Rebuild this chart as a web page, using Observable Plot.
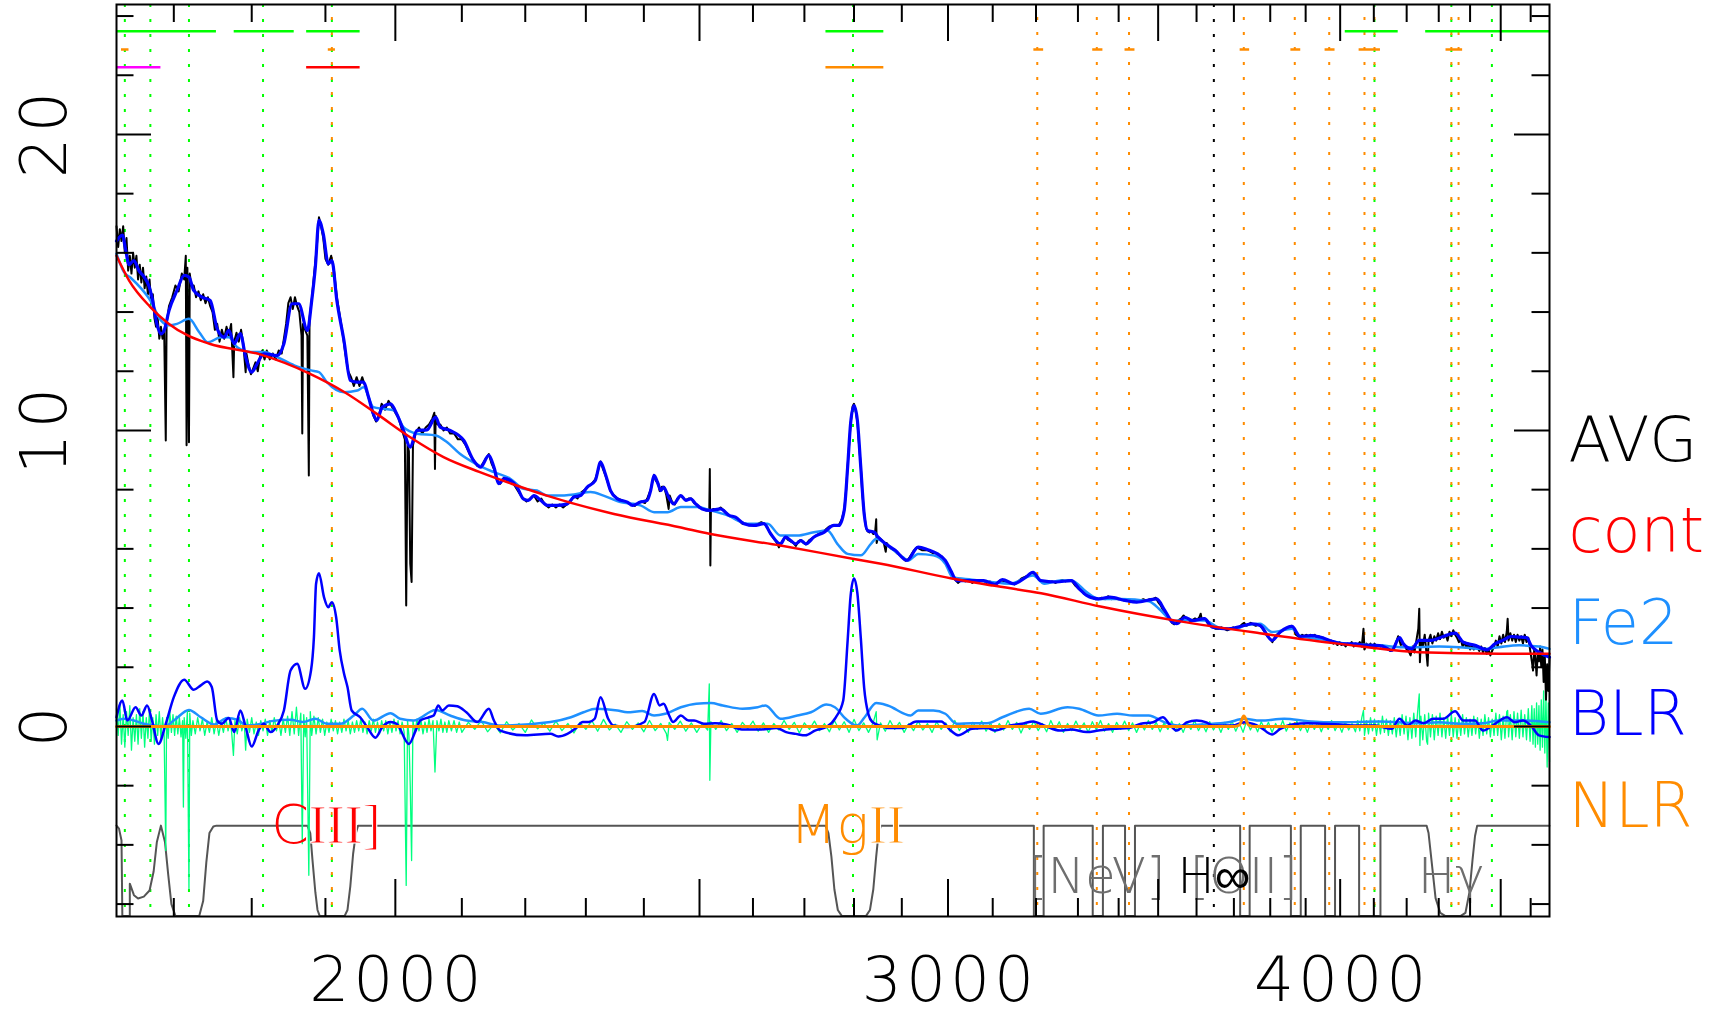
<!DOCTYPE html>
<html><head><meta charset="utf-8">
<script src="https://cdn.jsdelivr.net/npm/d3@7"></script>
<script src="https://cdn.jsdelivr.net/npm/@observablehq/plot@0.6"></script>
<style>
html,body{margin:0;padding:0;background:#fff;}
#chart svg{display:block;}
g[aria-description="x-tick-labels"] text{letter-spacing:4px;}
g[aria-description="y-tick-labels"] text{letter-spacing:5px;}
</style></head><body><div id="chart"></div>
<script>
// ---------------- data ----------------
const xDomain = [1630, 4664];
const yDomain = [-6.42, 24.39];

const xMinorTicks = [1700,1800,1900,2100,2200,2300,2400,2600,2700,2800,2900,3100,3200,3300,3400,3600,3700,3800,3900,4100,4200,4300,4400,4600];
const xMajorTicks = [2000,2500,3000,3500,4000,4500];
const xTickLabels = [2000,3000,4000];
const yMinorTicks = [-6,-4,-2,2,4,6,8,12,14,16,18,22,24];
const yMajorTicks = [0,10,20];
const yTickLabels = [0,10,20];

const legendNames = ["AVG","cont","Fe2","BLR","NLR"];
const legendColors = ["#000000","#ff0000","#1e90ff","#0000ff","#ff8c00"];

const broadLineWaves = [1640,1671,1719,1815,1909,2798,4102,4340,4471];
const narrowLineWaves = [1909,3203,3346,3426,3727,3869,3968,4072,4102,4340,4363];
const limitLineWaves = [3646];

const broadWindows = [[1630,1754],[1777,1857],[1874,1949],[2743,2862],[4015,4174],[4259,4664]];
const narrowWindows = [[1636,1645],[1904,1914],[3195,3218],[3336,3361],[3416,3441],[3717,3743],[3858,3886],[3956,3985],[4056,4120],[4323,4376]];
const extraWindows = [[1630,1684],[1874,1949],[2743,2862]];
const extraWindowColors = ["#ff00ff","#ff0000","#ff8c00"];

const broadLabelWave = [1909, 2798];
const broadLabelSans = ["C","Mg"];
const broadLabelSerif = ["III]","II"];
const broadLabelColor = ["#ff0000","#ff8c00"];
const narrowLabelWave = [3346, 3727, 4340];
const narrowLabelText = ["[NeV]","[OII]","H\u03b3"];
const limitLabelWave = [3646];
const limitLabelText = ["H\u221e"];

// continuum (red)
const cont = [[1630,15.9],[1645,15.07],[1671,14.17],[1694,13.6],[1718,13.2],[1745,12.93],[1811,12.57],[1878,11.92],[1927,11.29],[1973,10.56],[2022,9.77],[2072,9.1],[2127,8.6],[2178,8.2],[2235,7.8],[2348,7.18],[2464,6.73],[2518,6.51],[2653,6.11],[2800,5.66],[2856,5.5],[3008,5.0],[3100,4.76],[3212,4.5],[3355,4.05],[3557,3.55],[3771,3.15],[4000,2.79],[4238,2.51],[4496,2.46],[4664,2.46]];

// total model (blue, upper)
const model = [[1630,16.4],[1637,16.6],[1641,16.1],[1645,15.6],[1651,15.74],[1657,15.4],[1663,15.2],[1669,14.9],[1673,14.5],[1679,13.6],[1684,13.26],[1688,13.38],[1694,14.05],[1704,14.73],[1713,15.24],[1719,15.18],[1725,14.73],[1736,14.5],[1746,14.39],[1755,13.43],[1764,13.15],[1770,13.38],[1777,12.93],[1785,13.27],[1792,12.48],[1800,11.97],[1807,12.25],[1816,12.59],[1834,12.53],[1843,12.93],[1854,14.28],[1863,14.28],[1875,13.38],[1881,14.39],[1886,15.52],[1891,17.1],[1897,16.64],[1904,15.63],[1909,15.74],[1916,14.39],[1926,13.04],[1935,11.69],[1945,11.63],[1954,11.63],[1961,11.13],[1968,10.56],[1973,10.34],[1981,10.79],[1993,10.9],[2002,10.56],[2012,10.0],[2022,9.44],[2032,10.0],[2047,10.02],[2060,10.45],[2067,10.11],[2082,10.0],[2103,9.66],[2118,8.99],[2129,8.76],[2142,9.16],[2150,8.76],[2158,8.2],[2166,8.37],[2176,8.31],[2187,8.08],[2197,7.69],[2205,7.64],[2214,7.8],[2225,7.64],[2236,7.47],[2252,7.47],[2269,7.52],[2280,7.75],[2291,7.8],[2302,8.08],[2316,8.31],[2325,8.93],[2333,8.54],[2342,7.97],[2354,7.69],[2371,7.58],[2380,7.47],[2394,7.58],[2406,7.64],[2412,7.97],[2418,8.48],[2425,8.2],[2430,7.97],[2435,8.08],[2444,7.75],[2453,7.52],[2466,7.8],[2475,7.64],[2484,7.69],[2493,7.52],[2505,7.35],[2520,7.3],[2539,7.35],[2555,7.13],[2567,7.07],[2583,6.85],[2602,6.79],[2621,6.85],[2634,6.51],[2653,6.17],[2663,6.4],[2673,6.28],[2683,6.17],[2693,6.28],[2703,6.17],[2719,6.4],[2739,6.56],[2759,6.79],[2769,6.79],[2780,7.3],[2787,8.76],[2793,10.23],[2800,10.84],[2807,10.34],[2814,8.76],[2821,7.18],[2828,6.62],[2842,6.56],[2850,6.4],[2866,6.17],[2886,5.95],[2911,5.61],[2935,6.06],[2956,5.97],[2977,5.83],[2994,5.61],[3006,5.27],[3019,4.93],[3053,4.93],[3079,4.93],[3105,4.8],[3122,4.96],[3149,4.82],[3176,5.04],[3193,5.21],[3211,4.93],[3248,4.88],[3284,4.93],[3303,4.65],[3321,4.43],[3350,4.31],[3378,4.37],[3416,4.26],[3445,4.2],[3496,4.31],[3517,3.92],[3537,3.52],[3548,3.47],[3569,3.69],[3589,3.58],[3621,3.64],[3642,3.35],[3685,3.3],[3728,3.41],[3750,3.47],[3772,3.41],[3805,2.91],[3828,3.19],[3861,3.38],[3884,3.04],[3918,3.07],[3941,3.02],[3976,2.88],[4010,2.79],[4046,2.79],[4069,2.74],[4105,2.74],[4129,2.7],[4154,2.57],[4178,3.0],[4190,2.79],[4215,2.62],[4239,2.91],[4277,2.91],[4314,3.04],[4352,3.15],[4378,2.85],[4416,2.74],[4455,2.59],[4481,2.79],[4508,2.91],[4534,3.04],[4561,3.02],[4587,3.0],[4601,2.74],[4628,2.51],[4664,2.34]];

// continuum + Fe II (light blue, upper)
const fe2Upper = [[1630,15.97],[1639,15.35],[1647,15.16],[1660,14.79],[1671,14.39],[1684,13.72],[1694,13.55],[1704,13.6],[1719,13.77],[1732,13.32],[1743,12.98],[1760,13.15],[1770,13.15],[1781,12.81],[1799,12.65],[1816,12.65],[1834,12.48],[1857,12.2],[1880,12.03],[1891,11.97],[1902,11.63],[1926,11.29],[1945,11.35],[1954,11.46],[1968,10.79],[1983,10.73],[1998,10.68],[2012,10.11],[2032,9.89],[2060,9.83],[2077,9.61],[2097,9.21],[2121,8.88],[2150,8.59],[2176,8.37],[2197,8.03],[2219,7.97],[2236,7.8],[2252,7.8],[2280,7.84],[2308,7.92],[2330,7.8],[2359,7.58],[2394,7.47],[2418,7.24],[2442,7.24],[2466,7.41],[2496,7.41],[2520,7.3],[2552,7.13],[2589,6.85],[2628,6.85],[2653,6.45],[2686,6.45],[2719,6.56],[2746,6.62],[2766,6.17],[2787,5.83],[2814,5.78],[2835,6.17],[2846,6.34],[2870,6.11],[2902,5.72],[2914,5.61],[2935,5.83],[2968,5.78],[2994,5.5],[3010,5.04],[3053,4.96],[3096,4.88],[3140,4.82],[3193,5.1],[3220,4.82],[3257,4.93],[3284,4.93],[3321,4.54],[3350,4.31],[3406,4.31],[3476,4.23],[3507,3.92],[3537,3.56],[3569,3.6],[3621,3.58],[3664,3.33],[3707,3.3],[3728,3.41],[3772,3.47],[3805,3.19],[3861,3.3],[3884,3.07],[3952,2.93],[4022,2.79],[4118,2.74],[4190,2.68],[4239,2.68],[4302,2.7],[4365,2.68],[4442,2.62],[4494,2.68],[4561,2.74],[4628,2.7],[4664,2.62]];

// observed average spectrum (black)
const avg = [[1630,16.9],[1632,16.2],[1634,16.8],[1636,16.4],[1638,16.9],[1640,16.0],[1642,16.5],[1644,15.4],[1646,15.9],[1648,15.3],[1650,16.0],[1652,15.5],[1654,15.9],[1656,15.1],[1658,15.6],[1660,15.0],[1662,15.5],[1664,14.8],[1666,15.2],[1668,14.6],[1670,15.1],[1672,14.3],[1674,14.6],[1676,13.8],[1678,13.5],[1680,13.8],[1682,13.1],[1684,13.5],[1686,13.1],[1688,13.4],[1690,9.66],[1691,13.6],[1694,14.2],[1698,14.5],[1702,14.9],[1706,14.7],[1710,15.3],[1713,15.1],[1715,15.9],[1716,9.5],[1717,15.5],[1719,9.6],[1720,15.3],[1722,14.9],[1725,14.9],[1728,14.5],[1731,14.7],[1734,14.4],[1737,14.6],[1740,14.3],[1743,14.5],[1746,14.2],[1749,14.0],[1752,13.4],[1755,13.6],[1758,13.0],[1761,13.4],[1764,13.1],[1767,13.5],[1770,13.2],[1773,13.6],[1776,11.8],[1777,13.0],[1780,13.3],[1783,13.0],[1786,13.4],[1789,12.9],[1792,11.97],[1793,12.6],[1796,12.2],[1799,11.9],[1802,12.1],[1805,12.3],[1808,12.0],[1811,12.5],[1814,12.7],[1817,12.4],[1820,12.7],[1824,12.4],[1828,12.6],[1832,12.4],[1836,12.7],[1840,12.6],[1843,13.1],[1846,13.6],[1849,14.3],[1852,14.5],[1855,14.1],[1858,14.5],[1861,14.2],[1864,14.0],[1867,13.2],[1868,9.9],[1869,13.6],[1872,13.4],[1875,13.2],[1877,8.48],[1878,13.8],[1881,14.4],[1884,15.2],[1888,16.2],[1891,17.2],[1894,16.9],[1897,16.5],[1900,15.8],[1904,15.6],[1908,15.9],[1912,15.4],[1916,14.5],[1920,13.9],[1924,13.3],[1928,12.6],[1932,12.0],[1936,11.8],[1940,11.5],[1944,11.8],[1948,11.5],[1952,11.8],[1956,11.5],[1960,11.2],[1964,10.9],[1968,10.5],[1972,10.3],[1976,10.5],[1980,10.9],[1985,10.7],[1990,11.0],[1995,10.8],[2000,10.6],[2005,10.4],[2010,10.0],[2014,9.7],[2016,4.09],[2018,9.5],[2020,9.3],[2022,5.5],[2024,4.88],[2026,9.5],[2030,9.9],[2035,10.1],[2040,9.9],[2045,10.1],[2050,10.2],[2055,10.4],[2058,10.6],[2059,8.7],[2060,10.5],[2063,10.2],[2067,10.2],[2072,10.0],[2077,10.1],[2082,9.9],[2088,9.9],[2094,9.7],[2100,9.7],[2106,9.5],[2112,9.2],[2118,9.0],[2124,8.8],[2130,8.8],[2136,9.0],[2142,9.2],[2146,8.9],[2150,8.7],[2155,8.3],[2160,8.2],[2166,8.4],[2172,8.3],[2178,8.3],[2184,8.1],[2190,7.9],[2196,7.7],[2202,7.6],[2208,7.7],[2214,7.8],[2220,7.6],[2226,7.7],[2232,7.5],[2238,7.4],[2244,7.5],[2250,7.4],[2256,7.5],[2262,7.4],[2268,7.5],[2274,7.6],[2280,7.8],[2286,7.7],[2292,7.9],[2298,8.0],[2304,8.1],[2310,8.2],[2316,8.35],[2320,8.6],[2325,8.95],[2329,8.7],[2333,8.5],[2338,8.2],[2342,7.95],[2348,7.8],[2354,7.7],[2360,7.65],[2366,7.6],[2372,7.55],[2378,7.5],[2384,7.45],[2390,7.55],[2396,7.6],[2402,7.55],[2406,7.7],[2412,8.0],[2418,8.5],[2421,8.3],[2425,8.25],[2428,7.95],[2432,8.1],[2436,8.1],[2440,7.8],[2444,7.35],[2446,7.8],[2450,7.6],[2455,7.5],[2460,7.7],[2466,7.8],[2471,7.7],[2475,7.65],[2480,7.7],[2485,7.7],[2490,7.55],[2495,7.5],[2500,7.4],[2506,7.35],[2512,7.3],[2518,7.3],[2519,8.7],[2520,5.44],[2521,7.3],[2526,7.35],[2532,7.3],[2539,7.4],[2545,7.3],[2550,7.2],[2556,7.1],[2562,7.1],[2568,7.0],[2574,6.95],[2580,6.85],[2586,6.85],[2592,6.8],[2598,6.8],[2604,6.8],[2610,6.85],[2616,6.9],[2622,6.85],[2628,6.7],[2634,6.5],[2640,6.35],[2646,6.2],[2650,6.05],[2653,6.15],[2658,6.3],[2663,6.4],[2668,6.3],[2673,6.25],[2678,6.2],[2683,6.1],[2688,6.25],[2693,6.3],[2698,6.2],[2703,6.15],[2710,6.3],[2719,6.4],[2728,6.5],[2739,6.6],[2749,6.75],[2759,6.8],[2769,6.8],[2775,7.0],[2780,7.3],[2784,8.0],[2787,8.8],[2790,9.5],[2793,10.2],[2797,10.8],[2800,10.9],[2803,10.7],[2807,10.3],[2810,9.6],[2814,8.8],[2817,7.9],[2821,7.2],[2825,6.7],[2828,6.6],[2832,6.55],[2836,6.6],[2840,6.5],[2844,6.6],[2846,7.0],[2847,6.2],[2850,6.4],[2854,6.35],[2858,6.3],[2862,6.2],[2866,5.9],[2868,6.2],[2872,6.1],[2878,6.0],[2884,5.95],[2890,5.85],[2896,5.8],[2902,5.7],[2908,5.6],[2914,5.65],[2920,5.8],[2926,5.95],[2932,6.05],[2938,6.0],[2944,5.95],[2950,5.95],[2956,5.95],[2962,5.9],[2968,5.85],[2974,5.85],[2980,5.8],[2986,5.75],[2992,5.6],[2998,5.45],[3004,5.3],[3010,5.1],[3016,4.95],[3022,4.85],[3030,4.95],[3038,4.9],[3046,4.95],[3054,4.85],[3062,4.95],[3070,4.9],[3078,4.95],[3086,4.85],[3094,4.9],[3102,4.8],[3110,4.85],[3118,4.95],[3126,4.9],[3134,4.85],[3142,4.85],[3150,4.8],[3158,4.9],[3166,5.0],[3174,5.05],[3182,5.1],[3190,5.2],[3196,5.15],[3202,5.05],[3208,4.95],[3214,4.9],[3222,4.9],[3230,4.85],[3238,4.9],[3246,4.85],[3254,4.9],[3262,4.95],[3270,4.9],[3278,4.95],[3286,4.9],[3294,4.75],[3302,4.65],[3310,4.55],[3318,4.45],[3326,4.4],[3334,4.35],[3342,4.3],[3350,4.3],[3358,4.35],[3366,4.3],[3374,4.4],[3382,4.3],[3390,4.35],[3398,4.3],[3406,4.3],[3414,4.25],[3422,4.3],[3430,4.2],[3438,4.25],[3446,4.2],[3454,4.25],[3462,4.3],[3470,4.25],[3478,4.3],[3486,4.3],[3494,4.35],[3500,4.2],[3506,4.1],[3512,3.95],[3518,3.85],[3524,3.7],[3530,3.6],[3536,3.5],[3542,3.45],[3548,3.5],[3554,3.6],[3560,3.65],[3566,3.75],[3572,3.65],[3578,3.6],[3584,3.55],[3590,3.6],[3596,3.65],[3602,3.6],[3608,3.7],[3611,3.81],[3614,3.6],[3620,3.65],[3626,3.55],[3632,3.45],[3638,3.4],[3644,3.35],[3650,3.3],[3658,3.3],[3666,3.35],[3674,3.3],[3682,3.25],[3690,3.3],[3698,3.35],[3706,3.3],[3714,3.35],[3722,3.45],[3728,3.5],[3734,3.4],[3740,3.45],[3746,3.5],[3752,3.45],[3760,3.4],[3768,3.45],[3776,3.35],[3784,3.2],[3792,3.05],[3800,2.95],[3806,2.85],[3812,3.0],[3818,3.1],[3824,3.15],[3830,3.2],[3836,3.25],[3842,3.3],[3848,3.3],[3854,3.35],[3860,3.4],[3866,3.3],[3872,3.1],[3878,3.05],[3884,3.0],[3890,3.1],[3896,3.05],[3902,3.1],[3908,3.05],[3914,3.1],[3920,3.05],[3926,3.1],[3932,3.0],[3938,3.05],[3944,2.95],[3950,3.0],[3956,2.9],[3962,2.95],[3968,2.85],[3974,2.9],[3980,2.8],[3986,2.85],[3992,2.75],[3998,2.85],[4004,2.75],[4010,2.8],[4016,2.7],[4022,2.8],[4028,2.75],[4034,2.85],[4040,2.7],[4046,2.8],[4052,2.75],[4058,2.85],[4064,2.7],[4069,3.3],[4072,2.6],[4078,2.8],[4084,2.7],[4090,2.8],[4096,2.65],[4102,2.8],[4108,2.7],[4114,2.75],[4120,2.7],[4126,2.75],[4132,2.65],[4138,2.7],[4144,2.6],[4150,2.55],[4156,2.6],[4162,2.7],[4168,2.85],[4174,3.05],[4178,2.9],[4182,2.75],[4188,2.8],[4194,2.7],[4200,2.6],[4206,2.55],[4212,2.4],[4218,2.7],[4224,2.5],[4230,2.9],[4236,3.3],[4239,3.98],[4241,2.17],[4244,2.9],[4250,2.7],[4256,3.1],[4262,2.4],[4265,2.05],[4268,2.9],[4274,3.1],[4280,2.8],[4286,3.05],[4292,2.9],[4298,3.15],[4304,2.95],[4310,3.2],[4316,3.0],[4322,3.1],[4328,2.9],[4334,3.2],[4340,3.05],[4346,3.25],[4352,3.1],[4358,3.0],[4364,2.85],[4370,2.95],[4376,2.7],[4382,2.85],[4388,2.65],[4394,2.8],[4400,2.6],[4406,2.75],[4412,2.6],[4418,2.75],[4424,2.65],[4430,2.55],[4436,2.7],[4442,2.5],[4448,2.65],[4454,2.45],[4460,2.6],[4466,2.4],[4472,2.55],[4478,2.7],[4484,2.9],[4490,2.7],[4496,3.05],[4502,2.8],[4508,3.1],[4514,2.85],[4520,3.2],[4523,3.64],[4526,2.9],[4532,3.15],[4538,2.9],[4544,3.1],[4550,2.85],[4556,3.1],[4562,2.9],[4568,3.05],[4574,2.8],[4580,3.1],[4586,2.85],[4592,3.0],[4598,2.6],[4604,2.2],[4608,1.89],[4612,2.6],[4616,2.3],[4620,1.72],[4624,2.5],[4628,2.2],[4632,2.7],[4636,2.0],[4640,2.6],[4644,1.5],[4648,2.4],[4652,0.9],[4656,2.1],[4660,1.2],[4664,2.3]];

// BLR component (blue, lower)
const blr = [[1630,0.31],[1637,0.88],[1643,0.2],[1653,0.65],[1660,0.37],[1667,0.71],[1673,0.2],[1681,-0.59],[1690,0.09],[1700,0.99],[1713,1.58],[1725,1.24],[1734,1.39],[1742,1.52],[1748,1.33],[1755,0.2],[1761,0.09],[1770,0.29],[1777,-0.19],[1785,0.54],[1792,-0.02],[1800,-0.68],[1809,-0.14],[1816,0.09],[1825,-0.19],[1834,0.03],[1843,0.54],[1852,1.89],[1861,2.12],[1872,1.27],[1880,1.89],[1884,3.0],[1887,4.82],[1891,5.18],[1898,4.37],[1904,4.03],[1909,4.2],[1915,3.69],[1920,2.57],[1926,1.8],[1931,1.33],[1937,0.54],[1949,0.31],[1959,-0.02],[1971,-0.38],[1981,-0.02],[1993,0.15],[2002,0.09],[2020,-0.59],[2030,-0.14],[2037,0.2],[2050,0.31],[2057,0.37],[2064,0.71],[2070,0.54],[2080,0.71],[2093,0.68],[2107,0.48],[2124,0.15],[2142,0.6],[2150,0.2],[2160,-0.14],[2200,-0.3],[2241,-0.25],[2254,-0.34],[2269,-0.25],[2282,-0.08],[2295,0.15],[2305,0.15],[2315,0.26],[2325,0.99],[2338,0.26],[2347,0.03],[2371,-0.02],[2401,0.15],[2418,1.1],[2428,0.71],[2435,0.77],[2445,0.37],[2452,0.15],[2466,0.37],[2480,0.2],[2490,0.2],[2508,0.09],[2529,0.11],[2550,0.07],[2579,-0.1],[2616,-0.1],[2645,-0.05],[2664,-0.19],[2683,-0.25],[2702,-0.3],[2721,-0.14],[2744,-0.02],[2763,0.31],[2778,0.88],[2787,2.9],[2793,4.4],[2800,5.0],[2807,4.5],[2814,3.0],[2821,1.3],[2830,0.4],[2838,0.15],[2854,0.03],[2870,-0.05],[2902,-0.05],[2931,0.17],[2960,0.17],[2985,0.17],[3006,-0.14],[3023,-0.3],[3053,-0.08],[3088,-0.05],[3105,-0.14],[3140,0.03],[3167,0.09],[3193,0.17],[3220,0.03],[3257,-0.14],[3284,-0.1],[3321,-0.19],[3350,-0.14],[3388,-0.08],[3426,-0.05],[3456,0.09],[3487,0.14],[3512,0.31],[3532,0.03],[3548,-0.14],[3574,0.14],[3600,0.2],[3626,0.14],[3642,0.03],[3696,0.03],[3728,0.14],[3750,0.09],[3772,-0.02],[3805,-0.27],[3828,-0.08],[3861,0.07],[3906,0.11],[3952,0.09],[3999,0.07],[4046,0.03],[4105,0.03],[4154,-0.08],[4178,0.26],[4202,0.03],[4227,0.2],[4252,0.11],[4283,0.26],[4314,0.26],[4352,0.51],[4378,0.2],[4416,0.2],[4442,-0.14],[4481,0.09],[4521,0.31],[4547,0.14],[4574,0.2],[4601,0.03],[4628,-0.3],[4664,-0.36]];

// Fe II component (light blue, lower)
const fe2 = [[1630,0.2],[1639,0.26],[1651,0.2],[1663,0.09],[1675,0.03],[1688,0.0],[1700,0.2],[1719,0.56],[1734,0.31],[1751,0.07],[1768,0.29],[1781,0.23],[1794,0.03],[1813,0.09],[1826,0.18],[1852,0.23],[1869,0.15],[1886,0.26],[1902,0.09],[1921,0.09],[1940,0.37],[1952,0.6],[1968,0.2],[1993,0.45],[2007,0.26],[2027,0.2],[2060,0.56],[2082,0.37],[2107,0.2],[2132,0.15],[2160,0.03],[2241,0.15],[2275,0.31],[2296,0.48],[2317,0.6],[2354,0.54],[2371,0.48],[2397,0.52],[2418,0.37],[2438,0.43],[2466,0.65],[2494,0.77],[2521,0.79],[2543,0.71],[2580,0.6],[2609,0.65],[2624,0.71],[2653,0.26],[2686,0.37],[2713,0.48],[2744,0.74],[2761,0.65],[2783,0.26],[2806,0.03],[2822,0.31],[2846,0.79],[2870,0.71],[2919,0.37],[2935,0.54],[2968,0.54],[2994,0.43],[3019,0.09],[3053,0.11],[3087,0.11],[3122,0.31],[3184,0.6],[3211,0.43],[3275,0.65],[3303,0.6],[3350,0.37],[3396,0.43],[3436,0.37],[3476,0.37],[3517,0.14],[3558,0.03],[3621,0.07],[3685,0.14],[3728,0.26],[3772,0.2],[3839,0.26],[3906,0.18],[3999,0.14],[4118,0.17],[4239,0.11],[4302,0.14],[4365,0.09],[4442,0.11],[4494,0.2],[4561,0.2],[4628,0.18],[4664,0.14]];

// NLR component (orange, lower)
const nlr = [[1630,0],[3700,0],[3715,0.05],[3727,0.35],[3740,0.05],[3755,0],[4664,0]];

// residual (spring green)
const resid = [[1630,0.6],[1632,-0.3],[1634,0.8],[1636,-0.6],[1638,0.4],[1640,-0.7],[1642,0.5],[1644,-0.3],[1646,0.7],[1648,-0.8],[1650,0.3],[1652,-0.5],[1654,0.4],[1656,-0.6],[1658,0.6],[1660,-0.4],[1662,0.5],[1664,-0.7],[1666,0.3],[1668,-0.4],[1670,0.6],[1672,-0.5],[1674,0.3],[1676,-0.6],[1678,0.4],[1680,-0.3],[1682,0.5],[1684,-0.4],[1686,0.3],[1688,-0.3],[1690,-4.19],[1691,0.3],[1693,-0.4],[1695,0.5],[1697,-0.2],[1699,0.4],[1701,-0.3],[1703,0.35],[1705,-0.25],[1707,0.3],[1709,-0.35],[1711,0.2],[1712,-2.72],[1713,0.3],[1715,-0.4],[1717,0.5],[1719,-5.48],[1720,0.45],[1722,-0.3],[1724,0.2],[1727,-0.25],[1730,0.3],[1733,-0.15],[1736,0.25],[1739,-0.3],[1742,0.15],[1745,-0.2],[1748,0.3],[1751,-0.25],[1754,0.2],[1757,-0.3],[1760,0.15],[1763,-0.2],[1766,0.3],[1769,-0.15],[1772,0.25],[1774,-0.3],[1776,-0.98],[1778,0.2],[1781,-0.25],[1784,0.3],[1787,-0.15],[1790,0.2],[1792,-0.8],[1794,0.25],[1797,-0.2],[1800,0.3],[1803,-0.25],[1806,0.15],[1809,-0.3],[1812,0.2],[1815,-0.15],[1818,0.25],[1821,-0.3],[1824,0.2],[1827,-0.2],[1830,0.3],[1833,-0.15],[1836,0.2],[1839,-0.3],[1842,0.25],[1845,-0.2],[1848,0.35],[1851,-0.3],[1854,0.5],[1857,-0.25],[1860,0.65],[1863,-0.3],[1866,0.45],[1868,-3.96],[1870,0.4],[1872,-0.35],[1874,0.3],[1877,-5.03],[1879,0.5],[1881,-0.3],[1884,0.35],[1887,-0.25],[1890,0.3],[1893,-0.2],[1896,0.25],[1899,-0.3],[1902,0.15],[1905,-0.2],[1908,0.25],[1911,-0.15],[1914,0.2],[1917,-0.25],[1920,0.15],[1923,-0.2],[1926,0.25],[1929,-0.15],[1932,0.2],[1935,-0.25],[1938,0.15],[1941,-0.2],[1944,0.2],[1947,-0.15],[1950,0.25],[1953,-0.2],[1956,0.15],[1959,-0.25],[1962,0.2],[1965,-0.15],[1968,0.25],[1971,-0.2],[1974,0.15],[1977,-0.25],[1980,0.2],[1983,-0.15],[1986,0.2],[1989,-0.25],[1992,0.15],[1995,-0.2],[1998,0.25],[2001,-0.15],[2004,0.2],[2007,-0.25],[2010,0.15],[2013,-0.2],[2016,-5.37],[2018,0.2],[2020,-0.3],[2022,-2.0],[2024,-4.53],[2026,0.2],[2029,-0.2],[2032,0.25],[2035,-0.15],[2038,0.2],[2041,-0.25],[2044,0.15],[2047,-0.2],[2050,0.25],[2053,-0.15],[2056,0.2],[2059,-1.54],[2062,0.2],[2065,-0.15],[2068,0.25],[2071,-0.2],[2074,0.15],[2077,-0.2],[2080,0.2],[2084,-0.15],[2088,0.2],[2092,-0.2],[2096,0.15],[2100,-0.2],[2110,0.14],[2120,-0.1],[2130,0.2],[2140,-0.18],[2150,0.08],[2160,-0.22],[2170,0.16],[2180,-0.12],[2190,0.1],[2200,-0.2],[2210,0.22],[2220,-0.08],[2230,0.12],[2240,-0.16],[2250,0.18],[2260,-0.14],[2270,0.1],[2280,-0.22],[2290,0.14],[2300,-0.1],[2310,0.2],[2320,-0.16],[2330,0.24],[2340,-0.12],[2350,0.08],[2360,-0.2],[2370,0.16],[2380,-0.1],[2390,0.12],[2400,-0.18],[2410,0.2],[2420,-0.14],[2430,0.1],[2440,-0.24],[2442,-0.47],[2445,0.14],[2455,-0.1],[2465,0.18],[2475,-0.16],[2485,0.12],[2495,-0.2],[2505,0.1],[2515,-0.12],[2518,1.44],[2519,-1.82],[2521,0.16],[2530,-0.1],[2540,0.2],[2550,-0.14],[2560,0.1],[2570,-0.2],[2580,0.14],[2590,-0.08],[2600,0.18],[2610,-0.16],[2620,0.12],[2630,-0.2],[2640,0.1],[2650,-0.12],[2660,0.2],[2670,-0.1],[2680,0.14],[2690,-0.22],[2700,0.12],[2710,-0.1],[2720,0.18],[2730,-0.14],[2740,0.1],[2750,-0.18],[2760,0.2],[2770,-0.12],[2780,0.16],[2790,-0.2],[2800,0.24],[2810,-0.14],[2820,0.12],[2830,-0.2],[2840,0.14],[2846,0.5],[2848,-0.45],[2855,0.12],[2865,-0.16],[2875,0.2],[2885,-0.1],[2895,0.14],[2905,-0.2],[2915,0.1],[2925,-0.14],[2935,0.18],[2945,-0.12],[2955,0.1],[2965,-0.2],[2975,0.16],[2985,-0.1],[2995,0.12],[3005,-0.18],[3015,0.2],[3025,-0.14],[3035,0.1],[3045,-0.2],[3055,0.14],[3065,-0.1],[3075,0.18],[3085,-0.16],[3095,0.12],[3105,-0.2],[3115,0.1],[3125,-0.12],[3135,0.2],[3145,-0.1],[3155,0.14],[3165,-0.22],[3175,0.12],[3185,-0.1],[3195,0.18],[3205,-0.14],[3215,0.1],[3225,-0.18],[3235,0.2],[3245,-0.12],[3255,0.16],[3265,-0.2],[3275,0.1],[3285,-0.14],[3295,0.18],[3305,-0.1],[3315,0.12],[3325,-0.2],[3335,0.16],[3345,-0.12],[3355,0.2],[3365,-0.16],[3375,0.1],[3385,-0.2],[3395,0.14],[3405,-0.1],[3415,0.18],[3425,-0.14],[3435,0.12],[3445,-0.2],[3455,0.1],[3465,-0.12],[3475,0.2],[3485,-0.1],[3495,0.14],[3505,-0.18],[3515,0.12],[3525,-0.1],[3535,0.18],[3545,-0.16],[3555,0.1],[3565,-0.2],[3575,0.14],[3585,-0.1],[3595,0.2],[3605,-0.14],[3615,0.1],[3625,-0.18],[3635,0.16],[3645,-0.12],[3655,0.1],[3665,-0.2],[3675,0.14],[3685,-0.1],[3695,0.18],[3705,-0.16],[3715,0.12],[3725,-0.2],[3735,0.2],[3745,-0.12],[3755,0.1],[3765,-0.18],[3775,0.16],[3785,-0.1],[3795,0.14],[3805,-0.2],[3815,0.1],[3825,-0.12],[3835,0.2],[3845,-0.16],[3855,0.12],[3865,-0.1],[3875,0.18],[3885,-0.14],[3895,0.1],[3905,-0.2],[3915,0.16],[3925,-0.1],[3935,0.14],[3945,-0.18],[3955,0.12],[3965,-0.1],[3975,0.2],[3985,-0.14],[3995,0.1],[4005,-0.2],[4015,0.16],[4025,-0.12],[4035,0.1],[4045,-0.18],[4052,0.2],[4058,-0.15],[4064,0.3],[4069,0.54],[4072,-0.3],[4078,0.2],[4084,-0.25],[4090,0.3],[4096,-0.15],[4102,0.25],[4108,-0.3],[4114,0.2],[4120,-0.25],[4126,0.35],[4132,-0.2],[4138,0.25],[4144,-0.3],[4150,0.2],[4156,-0.25],[4162,0.3],[4168,-0.35],[4174,0.25],[4180,-0.3],[4186,0.4],[4192,-0.25],[4198,0.35],[4204,-0.45],[4210,0.3],[4216,-0.4],[4222,0.45],[4228,-0.35],[4234,0.5],[4239,1.1],[4241,-0.64],[4244,0.35],[4250,-0.45],[4256,0.4],[4262,-0.5],[4265,-0.6],[4268,0.45],[4274,-0.35],[4280,0.4],[4286,-0.45],[4292,0.35],[4298,-0.3],[4304,0.45],[4310,-0.35],[4316,0.3],[4322,-0.4],[4328,0.35],[4334,-0.3],[4340,0.4],[4346,-0.35],[4352,0.3],[4358,-0.4],[4364,0.25],[4370,-0.3],[4376,0.4],[4382,-0.25],[4388,0.3],[4394,-0.35],[4400,0.25],[4406,-0.3],[4412,0.35],[4418,-0.25],[4424,0.3],[4430,-0.4],[4436,0.25],[4442,-0.3],[4448,0.4],[4454,-0.25],[4460,0.3],[4466,-0.35],[4472,0.25],[4478,-0.3],[4484,0.45],[4490,-0.3],[4496,0.4],[4502,-0.45],[4508,0.35],[4514,-0.4],[4520,0.5],[4523,0.54],[4526,-0.35],[4532,0.4],[4538,-0.45],[4544,0.5],[4550,-0.35],[4556,0.45],[4562,-0.4],[4568,0.55],[4574,-0.35],[4580,0.4],[4586,-0.45],[4592,0.6],[4598,-0.5],[4604,0.7],[4608,-0.6],[4612,0.6],[4616,-0.7],[4620,0.8],[4624,-0.6],[4628,0.7],[4632,-0.8],[4636,0.9],[4640,-0.7],[4644,1.2],[4648,-0.9],[4652,1.0],[4656,-1.37],[4660,0.8],[4664,-1.2]];

// fitting mask (gray, bottom)
const mask = [[1630,-3.35],[1633,-3.45],[1636,-3.85],[1637,-6.4],[1646,-6.4],[1646,-5.31],[1651,-5.7],[1656,-5.81],[1663,-5.75],[1670,-5.54],[1675,-4.9],[1679,-3.9],[1684,-3.35],[1689,-3.9],[1693,-5.0],[1697,-6.0],[1702,-6.4],[1732,-6.4],[1737,-5.9],[1741,-4.6],[1745,-3.6],[1750,-3.38],[1754,-3.35],[1875,-3.35],[1879,-3.6],[1882,-4.5],[1886,-5.6],[1889,-6.2],[1892,-6.4],[1927,-6.4],[1931,-6.2],[1935,-5.4],[1939,-4.3],[1943,-3.6],[1946,-3.35],[2742,-3.35],[2748,-3.6],[2754,-4.4],[2760,-5.5],[2767,-6.2],[2775,-6.4],[2825,-6.4],[2833,-6.2],[2840,-5.5],[2846,-4.4],[2851,-3.6],[2856,-3.35],[3195,-3.35],[3195,-6.4],[3218,-6.4],[3218,-3.35],[3336,-3.35],[3336,-6.4],[3361,-6.4],[3361,-3.35],[3416,-3.35],[3416,-6.4],[3441,-6.4],[3441,-3.35],[3717,-3.35],[3717,-6.4],[3743,-6.4],[3743,-3.35],[3858,-3.35],[3858,-6.4],[3886,-6.4],[3886,-3.35],[3956,-3.35],[3956,-6.4],[3985,-6.4],[3985,-3.35],[4056,-3.35],[4056,-6.4],[4120,-6.4],[4120,-3.35],[4262,-3.35],[4268,-3.6],[4278,-4.6],[4290,-5.8],[4305,-6.3],[4320,-6.4],[4370,-6.4],[4385,-6.3],[4398,-5.6],[4408,-4.5],[4416,-3.7],[4423,-3.35],[4664,-3.35]];

// ---------------- drawing ----------------
const W = 1724, H = 1015;
const mL = 116, mR = 175, mT = 4, mB = 99;
const innerW = W - mL - mR, innerH = H - mT - mB;
const thin = "'DejaVu Sans ExtraLight','DejaVu Sans',sans-serif";
const serif = "'Liberation Serif','DejaVu Serif',serif";
const X = d => d[0], Y = d => d[1];
const dots = {strokeWidth: 2, strokeDasharray: "3,12"};
const labelShift = [-23, 16];

const marks = [
  // dotted line markers
  Plot.ruleX(broadLineWaves, {x: d => d, stroke: "#00ff00", ...dots}),
  Plot.ruleX(narrowLineWaves, {x: d => d, stroke: "#ff8c00", ...dots, strokeDashoffset: 2}),
  Plot.ruleX(limitLineWaves, {x: d => d, stroke: "#000000", ...dots}),
  // fit windows at top
  Plot.ruleY(broadWindows, {x1: d => d[0], x2: d => d[1], y: 23.49, stroke: "#00ff00", strokeWidth: 2.5}),
  Plot.ruleY(narrowWindows, {x1: d => d[0], x2: d => d[1], y: 22.87, stroke: "#ff8c00", strokeWidth: 2.5}),
  Plot.ruleY(extraWindows, {x1: d => d[0], x2: d => d[1], y: 22.27, stroke: (d, i) => extraWindowColors[i], strokeWidth: 2.5}),
  // mask
  Plot.line(mask, {x: X, y: Y, stroke: "#555555", strokeWidth: 2}),
  // lower components
  Plot.line(resid, {x: X, y: Y, stroke: "#00ff7f", strokeWidth: 1.3}),
  Plot.line(fe2, {x: X, y: Y, stroke: "#1e90ff", strokeWidth: 2.5, curve: "monotone-x"}),
  Plot.line(blr, {x: X, y: Y, stroke: "#0000ff", strokeWidth: 2.5, curve: "monotone-x"}),
  Plot.line(nlr, {x: X, y: Y, stroke: "#ff8c00", strokeWidth: 3, curve: "monotone-x"}),
  // upper spectrum
  Plot.line(avg, {x: X, y: Y, stroke: "#000000", strokeWidth: 2}),
  Plot.line(fe2Upper, {x: X, y: Y, stroke: "#1e90ff", strokeWidth: 2.5, curve: "monotone-x"}),
  Plot.line(model, {x: X, y: Y, stroke: "#0000ff", strokeWidth: 3.2, curve: "monotone-x"}),
  Plot.line(cont, {x: X, y: Y, stroke: "#ff0000", strokeWidth: 2.5, curve: "monotone-x"}),
  // line labels
  ...broadLabelWave.flatMap((w, i) => [
    Plot.text([w], {x: d => d, text: () => broadLabelSans[i], frameAnchor: "bottom", textAnchor: "end", lineAnchor: "bottom", dx: labelShift[i], dy: -74, fill: broadLabelColor[i], fontSize: 54, fontFamily: thin, fontWeight: 200}),
    Plot.text([w], {x: d => d, text: () => broadLabelSerif[i], frameAnchor: "bottom", textAnchor: "start", lineAnchor: "bottom", dx: labelShift[i], dy: -74, fill: broadLabelColor[i], stroke: "#ffffff", strokeWidth: 1.1, paintOrder: "normal", fontSize: 54, fontFamily: serif})
  ]),
  Plot.text(narrowLabelWave, {x: d => d, text: (d, i) => narrowLabelText[i], frameAnchor: "bottom", lineAnchor: "bottom", dy: -24, fill: "#6e6e6e", fontSize: 50, fontFamily: thin, fontWeight: 200}),
  Plot.text(limitLabelWave, {x: d => d, text: (d, i) => limitLabelText[i], frameAnchor: "bottom", lineAnchor: "bottom", dy: -24, fill: "#000000", fontSize: 50, fontFamily: thin, fontWeight: 200}),
  // axes: frame and ticks
  Plot.frame({stroke: "#000", strokeWidth: 2}),
  Plot.ruleX(xMinorTicks, {x: d => d, insetBottom: innerH - 18, stroke: "#000", strokeWidth: 2}),
  Plot.ruleX(xMajorTicks, {x: d => d, insetBottom: innerH - 37, stroke: "#000", strokeWidth: 2}),
  Plot.ruleX(xMinorTicks, {x: d => d, insetTop: innerH - 18, stroke: "#000", strokeWidth: 2}),
  Plot.ruleX(xMajorTicks, {x: d => d, insetTop: innerH - 37, stroke: "#000", strokeWidth: 2}),
  Plot.ruleY(yMinorTicks, {y: d => d, insetRight: innerW - 17.5, stroke: "#000", strokeWidth: 2}),
  Plot.ruleY(yMajorTicks, {y: d => d, insetRight: innerW - 35, stroke: "#000", strokeWidth: 2}),
  Plot.ruleY(yMinorTicks, {y: d => d, insetLeft: innerW - 17.5, stroke: "#000", strokeWidth: 2}),
  Plot.ruleY(yMajorTicks, {y: d => d, insetLeft: innerW - 35, stroke: "#000", strokeWidth: 2}),
  Plot.text(xTickLabels, {ariaDescription: "x-tick-labels", x: d => d, text: d => String(d), frameAnchor: "bottom", lineAnchor: "bottom", dy: 84, dx: 2, fill: "#000", fontSize: 63, fontFamily: thin, fontWeight: 200}),
  Plot.text(yTickLabels, {ariaDescription: "y-tick-labels", y: d => d, text: d => String(d), frameAnchor: "left", rotate: -90, textAnchor: "middle", lineAnchor: "bottom", dx: -51, dy: -2, fill: "#000", fontSize: 64, fontFamily: thin, fontWeight: 200}),
  // legend on the right
  ...legendNames.map((name, i) => Plot.text([name], {text: d => d, frameAnchor: "top-right", textAnchor: "start", lineAnchor: "bottom", dx: 19, dy: 456 + 91.5 * i, fill: legendColors[i], fontSize: 62, fontFamily: thin, fontWeight: 200}))
];

const chart = Plot.plot({
  width: W, height: H,
  marginLeft: mL, marginRight: mR, marginTop: mT, marginBottom: mB,
  x: {type: "log", domain: xDomain, axis: null},
  y: {domain: yDomain, axis: null},
  style: {background: "#ffffff", overflow: "visible"},
  marks
});
document.getElementById("chart").appendChild(chart);
</script></body></html>
